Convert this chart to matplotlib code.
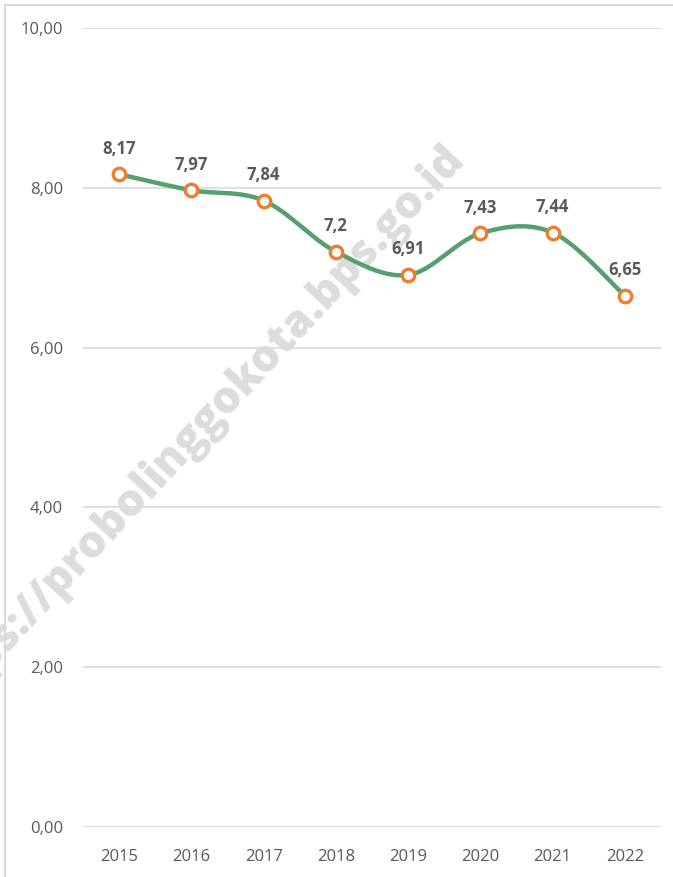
import matplotlib
matplotlib.use("Agg")
import matplotlib.pyplot as plt
import numpy as np

years = ["2015", "2016", "2017", "2018", "2019", "2020", "2021", "2022"]
values = [8.17, 7.97, 7.84, 7.2, 6.91, 7.43, 7.44, 6.65]
labels = ["8,17", "7,97", "7,84", "7,2", "6,91", "7,43", "7,44", "6,65"]
yticks = [0, 2, 4, 6, 8, 10]
ytick_labels = ["0,00", "2,00", "4,00", "6,00", "8,00", "10,00"]

plt.rcParams['font.family'] = ['Open Sans', 'DejaVu Sans']


def smooth(xs, ys, n=40):
    # bezier curve like the smoothed line in a spreadsheet
    p = np.column_stack([xs, ys]).astype(float)
    p = np.vstack([p[0], p, p[-1]])
    out = []
    for i in range(1, len(p) - 2):
        p0, p1, p2, p3 = p[i - 1], p[i], p[i + 1], p[i + 2]
        c1 = p1 + (p2 - p0) / 6.0
        c2 = p2 - (p3 - p1) / 6.0
        t = np.linspace(0, 1, n)[:, None]
        seg = ((1 - t) ** 3) * p1 + 3 * ((1 - t) ** 2) * t * c1 + 3 * (1 - t) * t ** 2 * c2 + t ** 3 * p2
        out.append(seg)
    out = np.vstack(out)
    return out[:, 0], out[:, 1]


fig = plt.figure(figsize=(6.73, 8.77), dpi=100)
ax = fig.add_axes([83 / 673, 1 - 827 / 877, (661 - 83) / 673, (827 - 28) / 877])

x = np.arange(len(years))
sx, sy = smooth(x, values)
ax.plot(sx, sy, color="#55a06e", linewidth=3.2, zorder=3, solid_capstyle="round")
ax.plot(x, values, linestyle="none", marker="o", markersize=9, markerfacecolor="white",
        markeredgecolor="#ed7d31", markeredgewidth=2.4, zorder=4)
for xi, v, lab in zip(x, values, labels):
    ax.annotate(lab, (xi, v), xytext=(0, 12), textcoords="offset points", ha="center",
                va="bottom", fontsize=12, fontweight="bold", color="#595959", zorder=5)

ax.set_xlim(-0.5, len(years) - 0.5)
ax.set_ylim(0, 10)
ax.set_xticks(x)
ax.set_xticklabels(years)
ax.set_yticks(yticks)
ax.set_yticklabels(ytick_labels)
ax.tick_params(axis="both", length=0, labelsize=12, labelcolor="#595959")
ax.tick_params(axis="y", pad=14.5)
ax.tick_params(axis="x", pad=16)
ax.grid(axis="y", color="#d9d9d9", linewidth=1.2)
ax.set_axisbelow(True)
for s in ax.spines.values():
    s.set_visible(False)
ax.patch.set_alpha(0)

# chart border
fig.add_artist(plt.Line2D([5 / 673, 5 / 673], [0, 1 - 5 / 877], color="#d9d9d9", linewidth=1.5))
fig.add_artist(plt.Line2D([5 / 673, 1], [1 - 5 / 877, 1 - 5 / 877], color="#d9d9d9", linewidth=1.5))

# watermark, behind the line
ax.text(194 / 673, 1 - 434 / 877, "https://probolinggokota.bps.go.id", rotation=47,
        ha="center", va="center", rotation_mode="anchor", fontsize=32, fontweight="heavy",
        color="#dcdcdc", zorder=1, transform=fig.transFigure, clip_on=False)

fig.savefig("out.png", dpi=100)
